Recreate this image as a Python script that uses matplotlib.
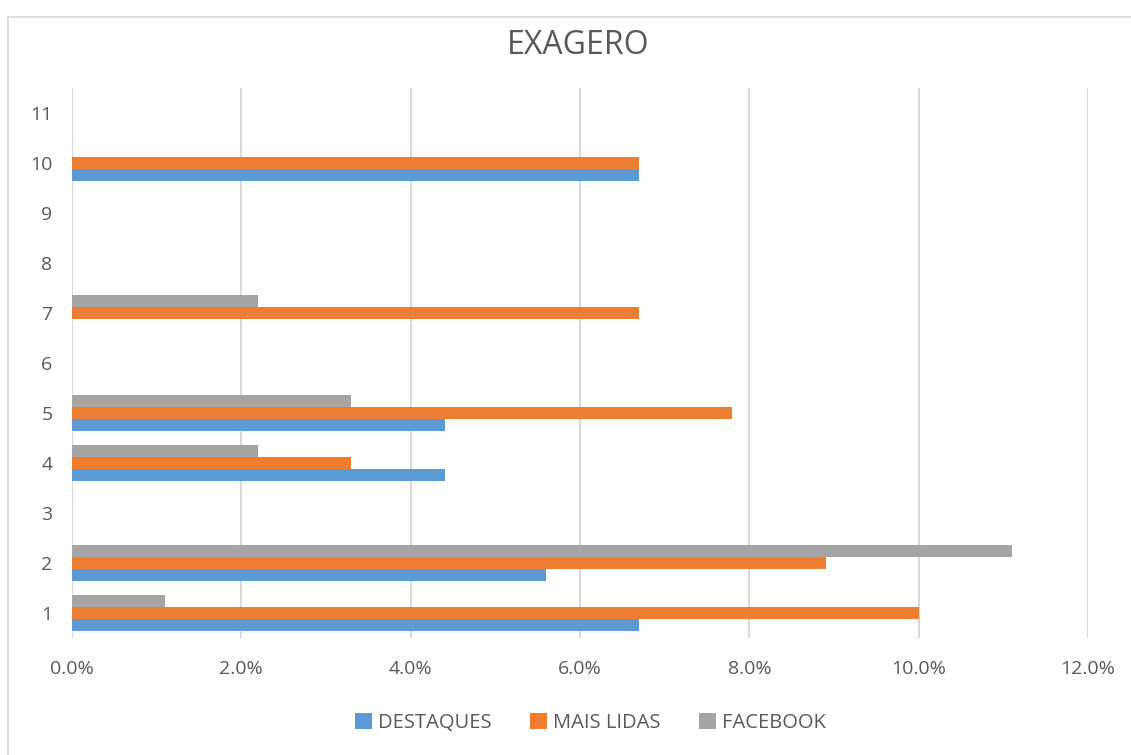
import matplotlib.pyplot as plt
from matplotlib.lines import Line2D
from matplotlib.ticker import FuncFormatter
import numpy as np

categories = [1, 2, 3, 4, 5, 6, 7, 8, 9, 10, 11]
destaques = [6.7, 5.6, 0, 4.4, 4.4, 0, 0, 0, 0, 6.7, 0]
mais_lidas = [10.0, 8.9, 0, 3.3, 7.8, 0, 6.7, 0, 0, 6.7, 0]
facebook = [1.1, 11.1, 0, 2.2, 3.3, 0, 2.2, 0, 0, 0, 0]
x_ticks = [0, 2, 4, 6, 8, 10, 12]

plt.rcParams['font.family'] = ['Open Sans', 'DejaVu Sans']
text_color = '#595959'

fig = plt.figure(figsize=(11.31, 7.55), dpi=100)
ax = fig.add_axes([0.0637, 0.155, 0.8983, 0.7284])

y = np.array(categories)
h = 0.245
ax.barh(y - h, destaques, height=h, color='#5B9BD5', label='DESTAQUES', zorder=3)
ax.barh(y, mais_lidas, height=h, color='#ED7D31', label='MAIS LIDAS', zorder=3)
ax.barh(y + h, facebook, height=h, color='#A5A5A5', label='FACEBOOK', zorder=3)

ax.set_xlim(0, 12)
ax.set_ylim(0.5, 11.5)
ax.set_xticks(x_ticks)
ax.xaxis.set_major_formatter(FuncFormatter(lambda v, p: f'{v:.1f}%'))
ax.set_yticks(categories)
ax.grid(axis='x', color='#D9D9D9', linewidth=1.5, zorder=0)
ax.tick_params(length=0, labelsize=14, colors=text_color)
ax.tick_params(axis='y', pad=14)
ax.tick_params(axis='x', pad=16)
for s in ax.spines.values():
    s.set_visible(False)

fig.text(0.511, 0.94, 'EXAGERO', ha='center', va='center', fontsize=23, color=text_color)

fig.legend(loc='center', bbox_to_anchor=(0.522, 0.042), ncol=3, frameon=False,
           fontsize=14.5, handlelength=0.85, handleheight=0.85, handletextpad=0.3,
           columnspacing=1.9, labelcolor=text_color)

# light chart border (top and left)
fig.add_artist(Line2D([8 / 1131, 1.0], [1 - 17 / 755, 1 - 17 / 755], color='#D9D9D9', linewidth=1.2))
fig.add_artist(Line2D([8 / 1131, 8 / 1131], [0, 1 - 17 / 755], color='#D9D9D9', linewidth=1.2))

fig.savefig('out.png', dpi=100)
